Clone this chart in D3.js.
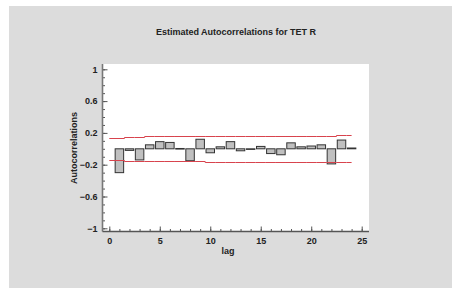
<!DOCTYPE html>
<html>
<head>
<meta charset="utf-8">
<title>Estimated Autocorrelations for TET R</title>
<script src="https://cdn.jsdelivr.net/npm/d3@7"></script>
<style>
  body { margin: 0; background: #fff; }
  svg { display: block; }
  text { font-family: "Liberation Sans", Arial, sans-serif; font-weight: bold; }
  .axis text { fill: #222; font-size: 9px; }
  .axis line { stroke: #555; }
</style>
</head>
<body>
<script>
// lags and estimated autocorrelations
const lags = [1, 2, 3, 4, 5, 6, 7, 8, 9, 10, 11, 12, 13, 14, 15, 16, 17, 18, 19, 20, 21, 22, 23, 24];
const acf = [-0.30, -0.02, -0.14, 0.05, 0.09, 0.08, 0.004, -0.15, 0.12, -0.05, 0.025, 0.09,
             -0.025, -0.004, 0.03, -0.06, -0.075, 0.075, 0.025, 0.035, 0.05, -0.19, 0.11, 0.01];
// probability limits (upper; lower is the negative)
const limits = [0.135, 0.148, 0.149, 0.155, 0.156, 0.157, 0.157, 0.157, 0.159, 0.16, 0.16, 0.16,
                0.161, 0.161, 0.161, 0.161, 0.161, 0.167, 0.167, 0.167, 0.167, 0.167, 0.168, 0.168];
const yMajor = [-1, -0.6, -0.2, 0.2, 0.6, 1];
const xMajor = [0, 5, 10, 15, 20, 25];

const width = 452, height = 288;

const svg = d3.select("body").append("svg")
  .attr("width", width)
  .attr("height", height);

// gray background
svg.append("rect")
  .attr("x", 9).attr("y", 6)
  .attr("width", width - 9).attr("height", height - 6)
  .attr("fill", "#dcdcdc");

// white plot panel
const pLeft = 102.5, pRight = 369, pTop = 64, pBottom = 231.5;
svg.append("rect")
  .attr("x", pLeft).attr("y", pTop)
  .attr("width", pRight - pLeft).attr("height", pBottom - pTop)
  .attr("fill", "#fff");

const x = d3.scaleLinear().domain([0, 25]).range([109.3, 361.7]);
const y = d3.scaleLinear().domain([-1, 1]).range([228.3, 69.3]);

// title
svg.append("text")
  .attr("x", 236).attr("y", 35)
  .attr("text-anchor", "middle")
  .attr("font-size", "9px")
  .attr("fill", "#222")
  .text("Estimated Autocorrelations for TET R");

// bars
const bw = (x(1) - x(0)) * 0.84;
svg.selectAll("rect.bar")
  .data(lags)
  .enter()
  .append("rect")
  .attr("class", "bar")
  .attr("x", function(d) { return x(d) - bw / 2; })
  .attr("y", function(d, i) { return y(Math.max(0, acf[i])); })
  .attr("width", bw)
  .attr("height", function(d, i) { return Math.max(0.6, Math.abs(y(acf[i]) - y(0))); })
  .attr("fill", "#c0c0c0")
  .attr("stroke", "#333")
  .attr("stroke-width", 1);

// limit lines as steps
const stepPts = lags.map(function(d, i) { return [i === 0 ? 0 : d - 0.5, limits[i]]; });
stepPts.push([24, limits[limits.length - 1]]);

const upperLine = d3.line()
  .x(function(d) { return x(d[0]); })
  .y(function(d) { return Math.round(y(d[1])) + 0.5; })
  .curve(d3.curveStepAfter);
const lowerLine = d3.line()
  .x(function(d) { return x(d[0]); })
  .y(function(d) { return Math.round(y(-d[1])) + 0.5; })
  .curve(d3.curveStepAfter);

svg.append("path")
  .attr("d", upperLine(stepPts))
  .attr("fill", "none").attr("stroke", "#d8434d").attr("stroke-width", 1);
svg.append("path")
  .attr("d", lowerLine(stepPts))
  .attr("fill", "none").attr("stroke", "#d8434d").attr("stroke-width", 1);

// y axis
svg.append("g")
  .attr("class", "axis")
  .attr("transform", "translate(" + pLeft + ",0)")
  .call(d3.axisLeft(y).tickValues(d3.range(-10, 11).map(function(d) { return d / 10; }))
    .tickSizeInner(-2.5).tickSizeOuter(0).tickFormat(""))
  .call(function(g) { g.select(".domain").remove(); });

svg.append("g")
  .attr("class", "axis")
  .attr("transform", "translate(" + pLeft + ",0)")
  .call(d3.axisLeft(y).tickValues(yMajor).tickSizeInner(-5).tickSizeOuter(0).tickPadding(5)
    .tickFormat(d3.format("")))
  .call(function(g) { g.select(".domain").remove(); });

// x axis
svg.append("g")
  .attr("class", "axis")
  .attr("transform", "translate(0," + pBottom + ")")
  .call(d3.axisBottom(x).tickValues(d3.range(0, 26)).tickSizeInner(-2.5).tickSizeOuter(0).tickFormat(""))
  .call(function(g) { g.select(".domain").remove(); });

svg.append("g")
  .attr("class", "axis")
  .attr("transform", "translate(0," + pBottom + ")")
  .call(d3.axisBottom(x).tickValues(xMajor).tickSizeInner(-5).tickSizeOuter(0).tickPadding(6))
  .call(function(g) { g.select(".domain").remove(); });

// axis lines
svg.append("line")
  .attr("x1", pLeft).attr("x2", pLeft).attr("y1", pTop).attr("y2", pBottom)
  .attr("stroke", "#777").attr("stroke-width", 1.6);
svg.append("line")
  .attr("x1", pLeft).attr("x2", pRight).attr("y1", pBottom).attr("y2", pBottom)
  .attr("stroke", "#555").attr("stroke-width", 1.4);

// axis titles
svg.append("text")
  .attr("transform", "translate(77,148) rotate(-90)")
  .attr("text-anchor", "middle")
  .attr("font-size", "9px")
  .attr("fill", "#222")
  .text("Autocorrelations");

svg.append("text")
  .attr("x", 228).attr("y", 254)
  .attr("text-anchor", "middle")
  .attr("font-size", "9px")
  .attr("fill", "#222")
  .text("lag");
</script>
</body>
</html>
